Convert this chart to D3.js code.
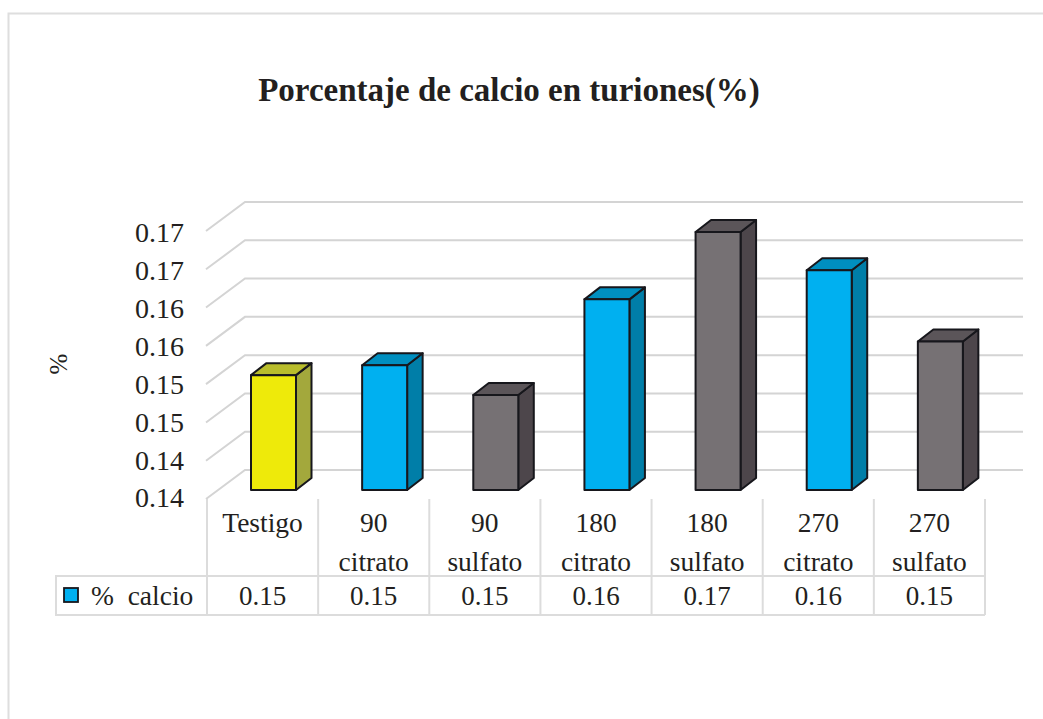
<!DOCTYPE html>
<html>
<head>
<meta charset="utf-8">
<style>
html, body { margin: 0; padding: 0; background: #fff; overflow: hidden; }
text { font-family: "Liberation Serif", serif; fill: #231f20; }
</style>
<script src="https://cdn.jsdelivr.net/npm/d3@7/dist/d3.min.js"></script>
</head>
<body>
<div id="chart"></div>
<script>
var categories = ["Testigo", "90 citrato", "90 sulfato", "180 citrato", "180 sulfato", "270 citrato", "270 sulfato"];
var categoryLines = [["Testigo"], ["90", "citrato"], ["90", "sulfato"], ["180", "citrato"], ["180", "sulfato"], ["270", "citrato"], ["270", "sulfato"]];
var calcio = [0.155, 0.1563, 0.1524, 0.1649, 0.1737, 0.1687, 0.1594];
var tableLabels = ["0.15", "0.15", "0.15", "0.16", "0.17", "0.16", "0.15"];
var barGroups = ["testigo", "citrato", "sulfato", "citrato", "sulfato", "citrato", "sulfato"];
var yTicks = [0.14, 0.145, 0.15, 0.155, 0.16, 0.165, 0.17, 0.175];
var yTickLabels = ["0.14", "0.14", "0.15", "0.15", "0.16", "0.16", "0.17", "0.17"];

var width = 1043, height = 719;

var x = d3.scaleBand()
    .domain(categories)
    .range([207, 985]);

var y = d3.scaleLinear()
    .domain([0.14, 0.175])
    .range([499, 231]);

// tick labels run a bit tighter than the grid
var yLabels = y.copy().range([498, 232.5]);

// face colours of the boxes: front, side, top
var faces = {
    testigo: ["#eeea0a", "#a3a83c", "#b9bd2c"],
    citrato: ["#00b0f0", "#007ea8", "#008fc0"],
    sulfato: ["#767174", "#4d464b", "#5b5559"]
};

var svg = d3.select("#chart").append("svg")
    .attr("width", width)
    .attr("height", height);

// outer frame, only top and left show in the picture
svg.append("path")
    .attr("d", "M8.5,719V13.5H1043")
    .attr("fill", "none")
    .attr("stroke", "#dedede")
    .attr("stroke-width", 2);

// TITLE

svg.append("text")
    .attr("x", 509)
    .attr("y", 101)
    .attr("text-anchor", "middle")
    .style("font-size", "33px")
    .style("font-weight", "bold")
    .text("Porcentaje de calcio en turiones(%)");

// GRID: walls going back from the axis

var wallX = 38, wallY = 29;

var grid = svg.append("g")
    .attr("fill", "none")
    .attr("stroke", "#d4d4d4")
    .attr("stroke-width", 2);

grid.selectAll("path")
    .data(yTicks)
    .enter().append("path")
    .attr("d", function(d) {
        return "M" + (x.range()[0] - 1) + "," + y(d) + "L" + (x.range()[0] + wallX) + "," + (y(d) - wallY) + "H1023";
    });

// AXIS

var yAxis = d3.axisLeft(yLabels)
    .tickValues(yTicks)
    .tickSize(0)
    .tickPadding(0)
    .tickFormat(function(d, i) { return yTickLabels[i]; });

var axisG = svg.append("g")
    .attr("transform", "translate(184,0)")
    .call(yAxis);

axisG.select(".domain").remove();
axisG.selectAll("text")
    .style("font-family", "'Liberation Serif', serif")
    .style("font-size", "28px")
    .attr("fill", "#231f20");

svg.append("text")
    .attr("transform", "translate(67,364) rotate(-90)")
    .attr("text-anchor", "middle")
    .style("font-size", "25px")
    .text("%");

// TABLE UNDER THE CHART

var tableTop = 576, tableBottom = 615, tableLeft = 56;

var tableG = svg.append("g")
    .attr("stroke", "#dcdcdc")
    .attr("stroke-width", 2);

tableG.selectAll(".sep")
    .data(categories.concat(["end"]))
    .enter().append("line")
    .attr("class", "sep")
    .attr("x1", function(d, i) { return x.range()[0] + i * x.step(); })
    .attr("x2", function(d, i) { return x.range()[0] + i * x.step(); })
    .attr("y1", 499)
    .attr("y2", tableBottom);

tableG.append("path")
    .attr("fill", "none")
    .attr("d", "M" + x.range()[1] + "," + tableTop + "H" + tableLeft + "V" + tableBottom + "H" + x.range()[1]);

var catText = svg.selectAll(".cat")
    .data(categoryLines)
    .enter().append("text")
    .attr("class", "cat")
    .attr("text-anchor", "middle")
    .style("font-size", "27.5px");

catText.selectAll("tspan")
    .data(function(d, i) { return d.map(function(t) { return {t: t, i: i}; }); })
    .enter().append("tspan")
    .attr("x", function(d) { return x(categories[d.i]) + x.bandwidth() / 2; })
    .attr("y", function(d, j) { return 532 + j * 38.5; })
    .text(function(d) { return d.t; });

svg.selectAll(".val")
    .data(tableLabels)
    .enter().append("text")
    .attr("class", "val")
    .attr("x", function(d, i) { return x(categories[i]) + x.bandwidth() / 2; })
    .attr("y", 605)
    .attr("text-anchor", "middle")
    .style("font-size", "27px")
    .text(function(d) { return d; });

// legend key sits in the first table cell
svg.append("rect")
    .attr("x", 64)
    .attr("y", 588)
    .attr("width", 14)
    .attr("height", 14)
    .attr("fill", "#00b0f0")
    .attr("stroke", "#17171c")
    .attr("stroke-width", 1.8);

svg.append("text")
    .attr("x", 91)
    .attr("y", 605)
    .style("font-size", "27.5px")
    .style("white-space", "pre")
    .text("%  calcio");

// BARS

var barOffset = 44, barWidth = 45, depthX = 15.5, depthY = 12, floorLift = 9;

function barTop(v) { return y(v) - floorLift; }

var base = y(0.14) - floorLift;

var bars = svg.selectAll(".bar")
    .data(calcio)
    .enter().append("g")
    .attr("class", "bar")
    .attr("stroke", "#17171c")
    .attr("stroke-width", 2)
    .attr("stroke-linejoin", "round");

bars.append("path") // side
    .attr("fill", function(d, i) { return faces[barGroups[i]][1]; })
    .attr("d", function(d, i) {
        var r = x(categories[i]) + barOffset + barWidth;
        return "M" + r + "," + barTop(d) + "l" + depthX + "," + (-depthY) + "V" + (base - depthY) + "L" + r + "," + base + "Z";
    });

bars.append("path") // top
    .attr("fill", function(d, i) { return faces[barGroups[i]][2]; })
    .attr("d", function(d, i) {
        var l = x(categories[i]) + barOffset;
        return "M" + l + "," + barTop(d) + "l" + depthX + "," + (-depthY) + "h" + barWidth + "l" + (-depthX) + "," + depthY + "Z";
    });

bars.append("rect") // front
    .attr("fill", function(d, i) { return faces[barGroups[i]][0]; })
    .attr("x", function(d, i) { return x(categories[i]) + barOffset; })
    .attr("y", function(d) { return barTop(d); })
    .attr("width", barWidth)
    .attr("height", function(d) { return base - barTop(d); });
</script>
</body>
</html>
